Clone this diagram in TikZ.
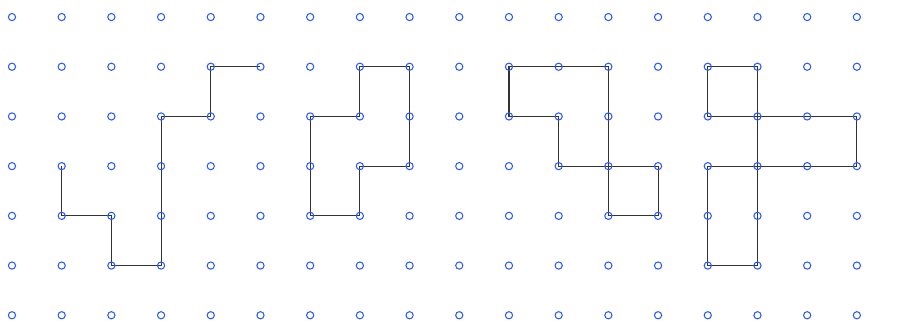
\documentclass[tikz,border=0pt]{standalone}
\usepackage{tikz}

\begin{document}
\begin{tikzpicture}[
    x=1cm, y=1cm,
    dot/.style={circle, draw={rgb,255:red,40;green,90;blue,255},
      line width=0.6pt, inner sep=0pt, minimum size=1.45mm},
    walk/.style={draw=black!80, line width=0.6pt, line join=miter}
  ]
    \useasboundingbox (-0.241,0.343) rectangle (17.908,-6.122);
    % lattice points
    \foreach \i in {0,...,17}
      \foreach \j in {0,...,6}
        \coordinate (p-\i-\j) at (\i,-\j);
    % open staircase
    \draw[walk] (p-1-3) -- (p-1-4) -- (p-2-4) -- (p-2-5) -- (p-3-5)
      -- (p-3-2) -- (p-4-2) -- (p-4-1) -- (p-5-1);
    % closed walks
    \draw[walk] (p-7-1) -- (p-8-1) -- (p-8-3) -- (p-7-3) -- (p-7-4)
      -- (p-6-4) -- (p-6-2) -- (p-7-2) -- cycle;
    \draw[walk] (p-10-1) -- (p-12-1) -- (p-12-4) -- (p-13-4) -- (p-13-3)
      -- (p-11-3) -- (p-11-2) -- (p-10-2) -- cycle;
    \draw[walk] (p-14-1) -- (p-15-1) -- (p-15-5) -- (p-14-5) -- (p-14-3)
      -- (p-17-3) -- (p-17-2) -- (p-14-2) -- cycle;
    % dots on top
    \foreach \i in {0,...,17}
      \foreach \j in {0,...,6}
        \node[dot] (d-\i-\j) at (p-\i-\j) {};
\end{tikzpicture}
\end{document}
